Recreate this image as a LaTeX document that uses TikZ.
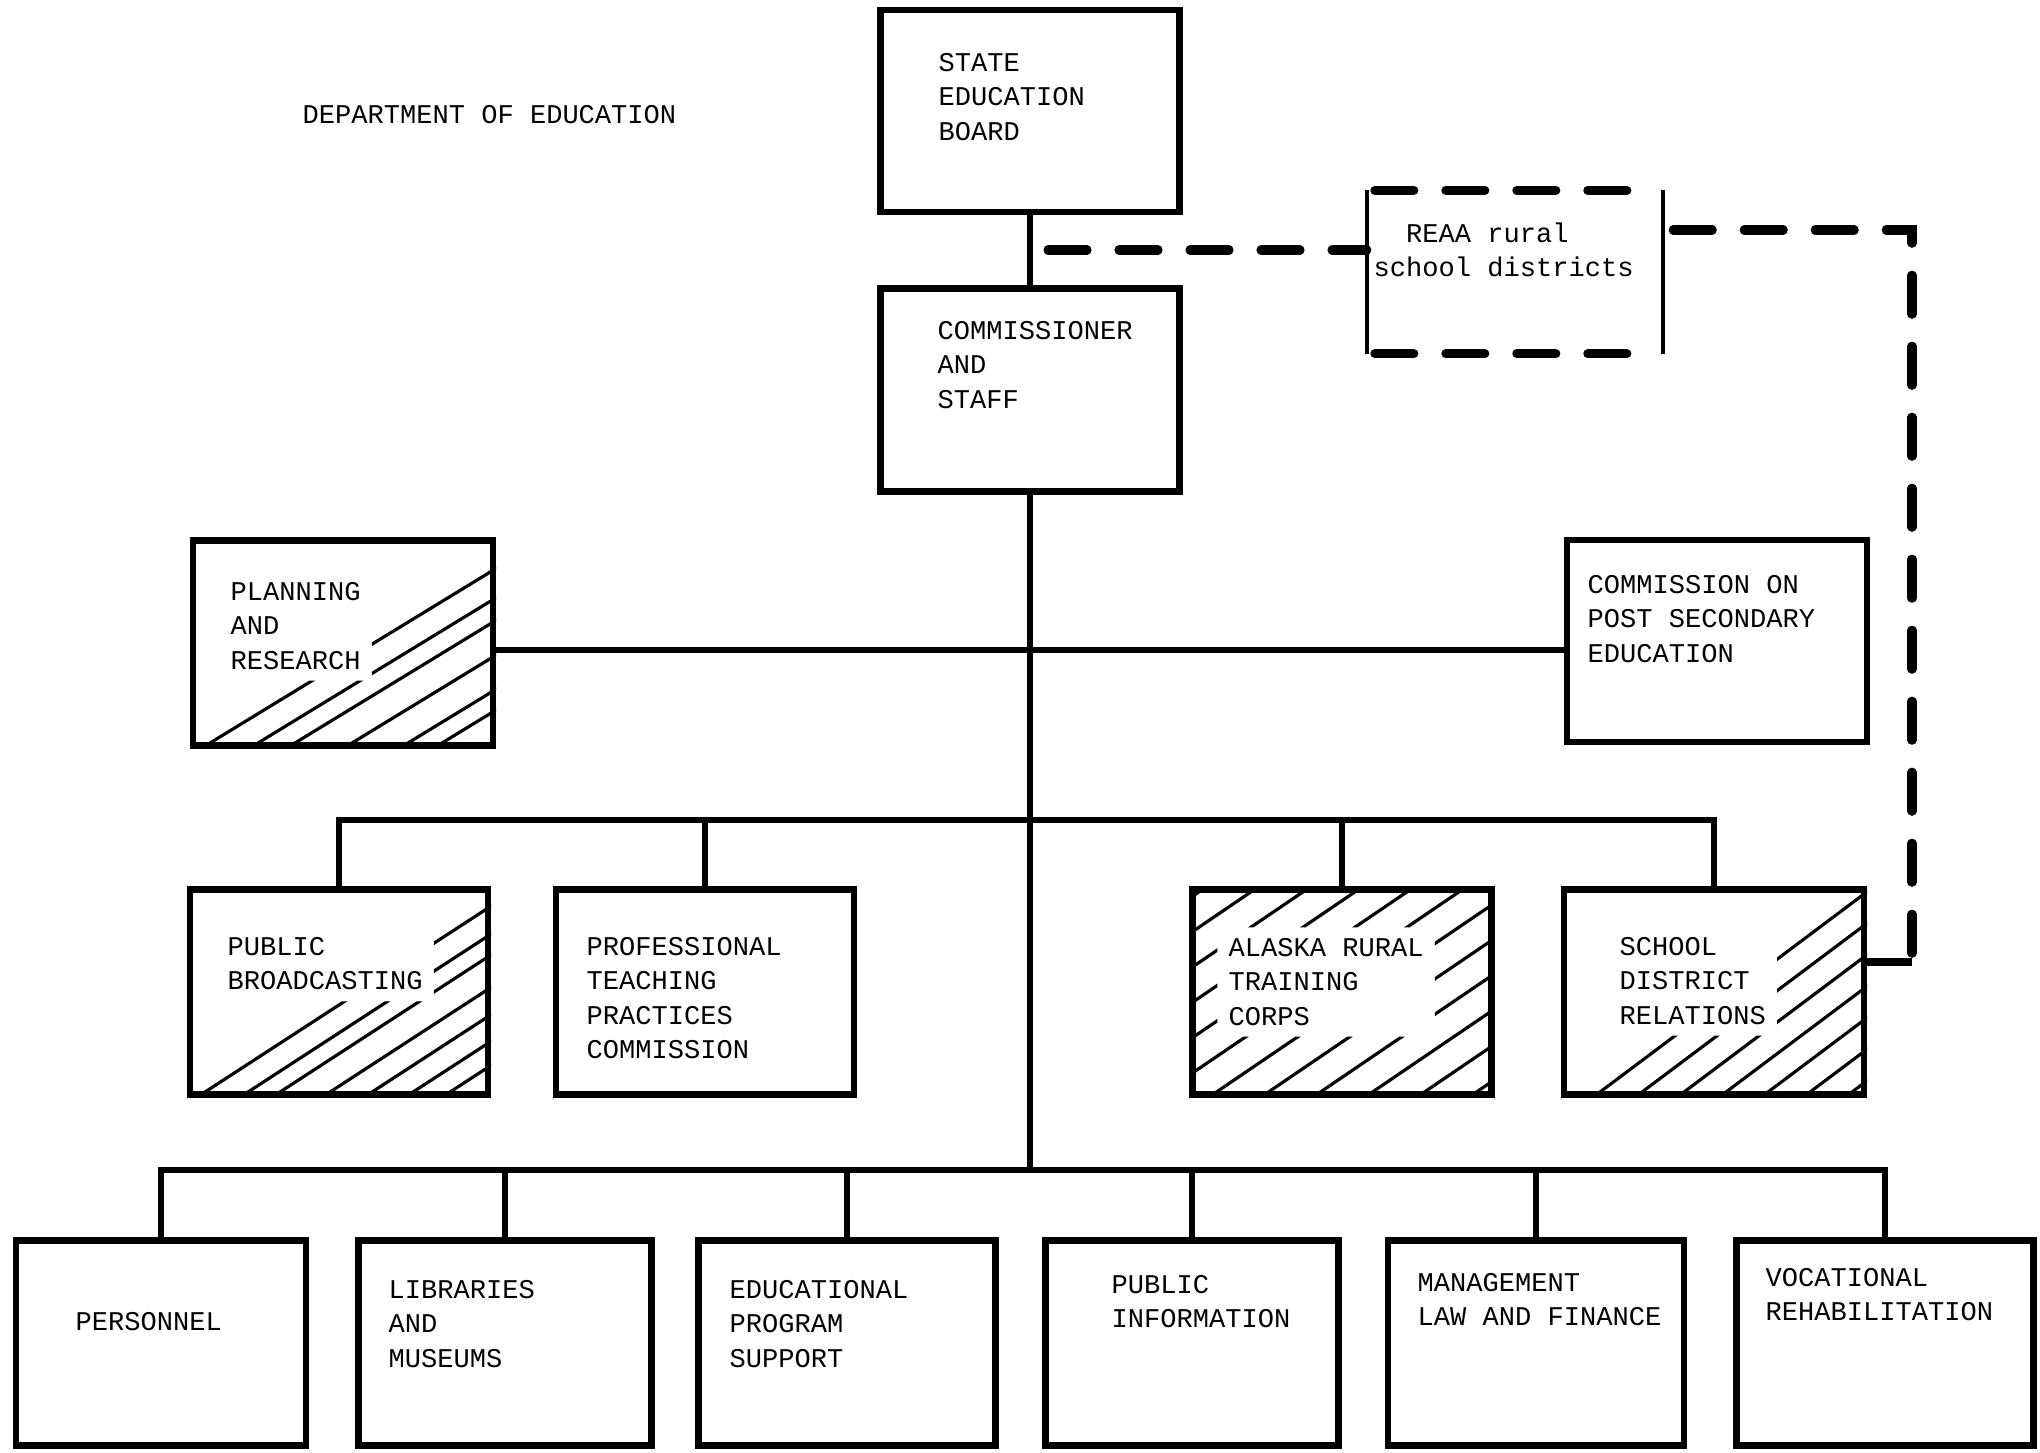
\documentclass[tikz,border=0pt]{standalone}
\usepackage{fontspec}
\setmonofont{Liberation Mono}
\usetikzlibrary{shapes}
\tikzstyle{unit} = [draw, line width=1.8pt, inner sep=0pt]
\tikzstyle{boxtext} = [font=\ttfamily\fontsize{7.7}{9.7}\selectfont, align=left, anchor=north west, inner sep=0pt]
\tikzstyle{link} = [line width=1.6pt]
\tikzstyle{linkdash} = [line width=2.6pt, line cap=round, dash pattern=on 0.39cm off 0.32cm]
\tikzstyle{hatch} = [line width=0.9pt]
\tikzset{pad/.style={shift={(3pt,-3pt)}}}

\begin{document}
\begin{tikzpicture}[x=0.1mm, y=-0.1mm]
  \useasboundingbox (0,0) rectangle (2040,1452);
  % Boxes
  \foreach \name/\x/\y/\w/\h in {board/1030/111/2.99/2.02, comm/1030/390/2.99/2.03,
      plan/343/643/3.00/2.05, cpse/1717/641/3.00/2.02,
      pbc/339/992/2.98/2.05, ptpc/705/992/2.98/2.05, artc/1342/992/2.99/2.05, sdr/1714/992/3.00/2.05,
      pers/161/1343/2.90/2.05, libm/505/1343/2.93/2.05, epsu/847/1343/2.97/2.05,
      pinf/1192/1343/2.93/2.05, mlf/1536/1343/2.96/2.05, vocr/1885/1343/2.97/2.05} {
    \node[unit, minimum width=\w cm, minimum height=\h cm] (\name) at (\x,\y) {};
  }
  % Texts
  \node[boxtext] (title) at (302,105) {DEPARTMENT OF EDUCATION};
  \node[boxtext] (board-t) at (938,53) {STATE\\EDUCATION\\BOARD};
  \node[boxtext] (comm-t) at (937,321) {COMMISSIONER\\AND\\STAFF};
  \node[boxtext] (plan-t) at (230,582) {PLANNING\\AND\\RESEARCH};
  \node[boxtext] (cpse-t) at (1587,575) {COMMISSION ON\\POST SECONDARY\\EDUCATION};
  \node[boxtext] (pbc-t) at (227,937) {PUBLIC\\BROADCASTING};
  \node[boxtext] (ptpc-t) at (586,937) {PROFESSIONAL\\TEACHING\\PRACTICES\\COMMISSION};
  \node[boxtext] (artc-t) at (1228,938) {ALASKA RURAL\\TRAINING\\CORPS};
  \node[boxtext] (sdr-t) at (1619,937) {SCHOOL\\DISTRICT\\RELATIONS};
  \node[boxtext] (pers-t) at (75,1312) {PERSONNEL};
  \node[boxtext] (libm-t) at (388,1280) {LIBRARIES\\AND\\MUSEUMS};
  \node[boxtext] (epsu-t) at (729,1280) {EDUCATIONAL\\PROGRAM\\SUPPORT};
  \node[boxtext] (pinf-t) at (1111,1275) {PUBLIC\\INFORMATION};
  \node[boxtext] (mlf-t) at (1417,1273) {MANAGEMENT\\LAW AND FINANCE};
  \node[boxtext] (vocr-t) at (1765,1268) {VOCATIONAL\\REHABILITATION};
  % Hatching
  \begin{scope}[even odd rule]
    \clip (plan.north west) rectangle (plan.south east)
      (plan.north west) rectangle ([pad]plan-t.south east);
    \foreach \s in {205,253,290,347,403,437}
      \draw[hatch] (\s,746) -- ++(400,-244);
  \end{scope}
  \begin{scope}[even odd rule]
    \clip (pbc.north west) rectangle (pbc.south east)
      (pbc.north west) rectangle ([pad]pbc-t.south east);
    \foreach \s in {205,248,280,330,372,413,450}
      \draw[hatch] (\s,1092) -- ++(400,-260);
  \end{scope}
  \begin{scope}[even odd rule]
    \clip (artc.north west) rectangle (artc.south east)
      ([shift={(-3pt,3pt)}]artc-t.north west) rectangle ([pad]artc-t.south east);
    \foreach \s in {900,952,...,1490}
      \draw[hatch] (\s,1095) -- ++(440,-299);
  \end{scope}
  \begin{scope}[even odd rule]
    \clip (sdr.north west) rectangle (sdr.south east)
      (sdr.north west) rectangle ([pad]sdr-t.south east);
    \foreach \s in {1600,1642,1684,1726,1768,1810,1852}
      \draw[hatch] (\s,1092) -- ++(300,-225);
  \end{scope}
  % Lines of authority
  \coordinate (hub) at (1030,650);
  \coordinate (bar1) at (1030,820);
  \coordinate (bar2) at (1030,1170);
  \draw[link] (board.south) -- (comm.north);
  \draw[link] (comm.south) -- (bar2);
  \draw[link] (plan.east |- hub) -- (cpse.west |- hub);
  \draw[link] (pbc.north) |- (bar1) -| (sdr.north);
  \foreach \name in {ptpc, artc}
    \draw[link] (\name.north) -- (\name.north |- bar1);
  \draw[link] (pers.north) |- (bar2) -| (vocr.north);
  \foreach \name in {libm, epsu, pinf, mlf}
    \draw[link] (\name.north) -- (\name.north |- bar2);
  % REAA box and dashed link
  \node[minimum width=2.95cm, minimum height=1.62cm, inner sep=0pt] (reaa) at (1515,272) {};
  \node[boxtext] (reaa-t) at (1373,222) {\hspace*{1.2em}REAA rural\\school districts};
  \draw[line width=1.1pt] (reaa.north west) -- (reaa.south west);
  \draw[line width=1.1pt] (reaa.north east) -- (reaa.south east);
  \draw[linkdash] (reaa.north west) ++(0.08cm,0) -- ([xshift=-0.15cm]reaa.north east);
  \draw[linkdash] (reaa.south west) ++(0.08cm,0) -- ([xshift=-0.2cm]reaa.south east);
  \coordinate (tap) at (1030,250);
  \coordinate (corner) at (1912,230);
  \coordinate (hook) at (1912,962);
  \draw[linkdash] (tap) ++(0.18cm,0) -- (tap -| reaa.west);
  \draw[linkdash] (corner -| reaa.east) ++(0.1cm,0) -- (corner) -- (hook);
  \draw[line width=2.4pt] (hook) -- (hook -| sdr.east);
\end{tikzpicture}
\end{document}
